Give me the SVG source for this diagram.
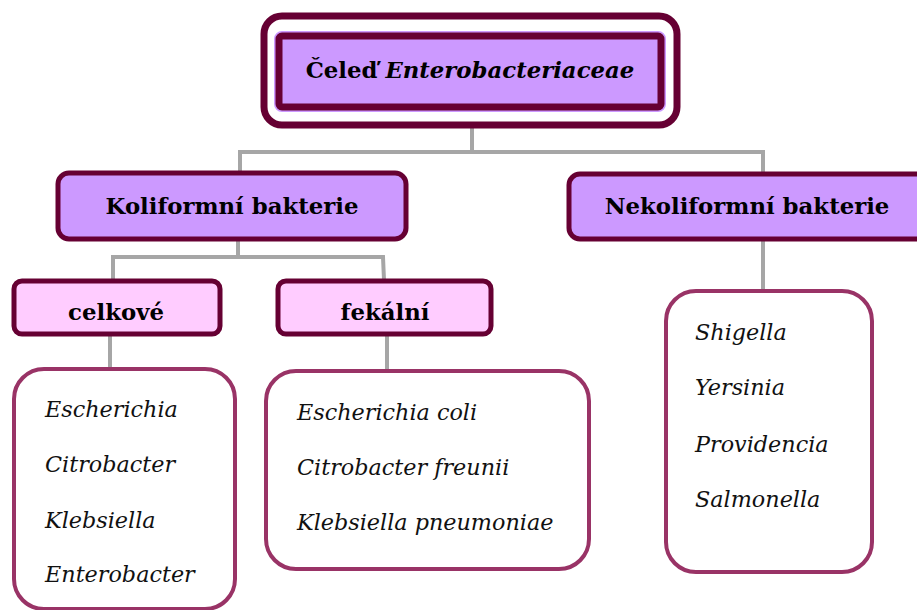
<svg xmlns="http://www.w3.org/2000/svg" width="917" height="610" viewBox="0 0 917 610">
<style>
.hd{fill:#CC99FF;stroke:#660033;stroke-width:5}
.sub{fill:#FFCCFF;stroke:#660033;stroke-width:5}
.lst{fill:#FFFFFF;stroke:#993366;stroke-width:4}
.con{fill:none;stroke:#A6A6A6;stroke-width:4}
.bt{font-family:"DejaVu Serif","Liberation Serif",serif;font-weight:bold;fill:#000;text-anchor:middle;font-size:22.8px}
.it{font-family:"DejaVu Serif","Liberation Serif",serif;font-style:italic;fill:#111;font-size:22.3px}
</style>
<rect width="917" height="610" fill="#FFFFFF"/>
<g id="connectors">
<path class="con" d="M472 126V152M240 172V152H763V172"/>
<path class="con" d="M238 240V257M113 280V257H383L384 280"/>
<path class="con" d="M110 335V368M387 335V372"/>
<path class="con" d="M763 240V290"/>
</g>
<g id="root">
<rect x="264" y="16" width="413" height="109" rx="18" fill="#FFFFFF" stroke="#660033" stroke-width="7"/>
<rect x="279" y="36" width="382" height="71" rx="3" fill="#CC99FF" stroke="#CC99FF" stroke-width="10"/>
<rect x="279" y="36" width="382" height="71" rx="3" fill="#CC99FF" stroke="#660033" stroke-width="7"/>
<text class="bt" x="470" y="78" font-size="22.8">Čeleď <tspan font-style="italic">Enterobacteriaceae</tspan></text>
</g>
<g id="koliformni">
<rect class="hd" x="58" y="173" width="348" height="66" rx="11"/>
<text class="bt" x="232" y="214">Koliformní bakterie</text>
</g>
<g id="nekoliformni">
<rect class="hd" x="569" y="174" width="360" height="65" rx="11"/>
<text class="bt" x="747" y="214">Nekoliformní bakterie</text>
</g>
<g id="celkove">
<rect class="sub" x="14" y="281" width="206" height="53" rx="8"/>
<text class="bt" x="116" y="320">celkové</text>
</g>
<g id="fekalni">
<rect class="sub" x="278" y="281" width="213" height="53" rx="8"/>
<text class="bt" x="385" y="320">fekální</text>
</g>
<g id="list-celkove">
<rect class="lst" x="14" y="369" width="221" height="240" rx="30"/>
<text class="it" x="45" y="417">Escherichia</text>
<text class="it" x="45" y="472">Citrobacter</text>
<text class="it" x="45" y="528">Klebsiella</text>
<text class="it" x="45" y="582">Enterobacter</text>
</g>
<g id="list-fekalni">
<rect class="lst" x="266" y="371" width="323" height="198" rx="30"/>
<text class="it" x="297" y="420">Escherichia coli</text>
<text class="it" x="297" y="475">Citrobacter freunii</text>
<text class="it" x="297" y="530">Klebsiella pneumoniae</text>
</g>
<g id="list-nekoliformni">
<rect class="lst" x="666" y="291" width="206" height="281" rx="30"/>
<text class="it" x="695" y="340">Shigella</text>
<text class="it" x="695" y="395">Yersinia</text>
<text class="it" x="695" y="452">Providencia</text>
<text class="it" x="695" y="507">Salmonella</text>
</g>
</svg>
